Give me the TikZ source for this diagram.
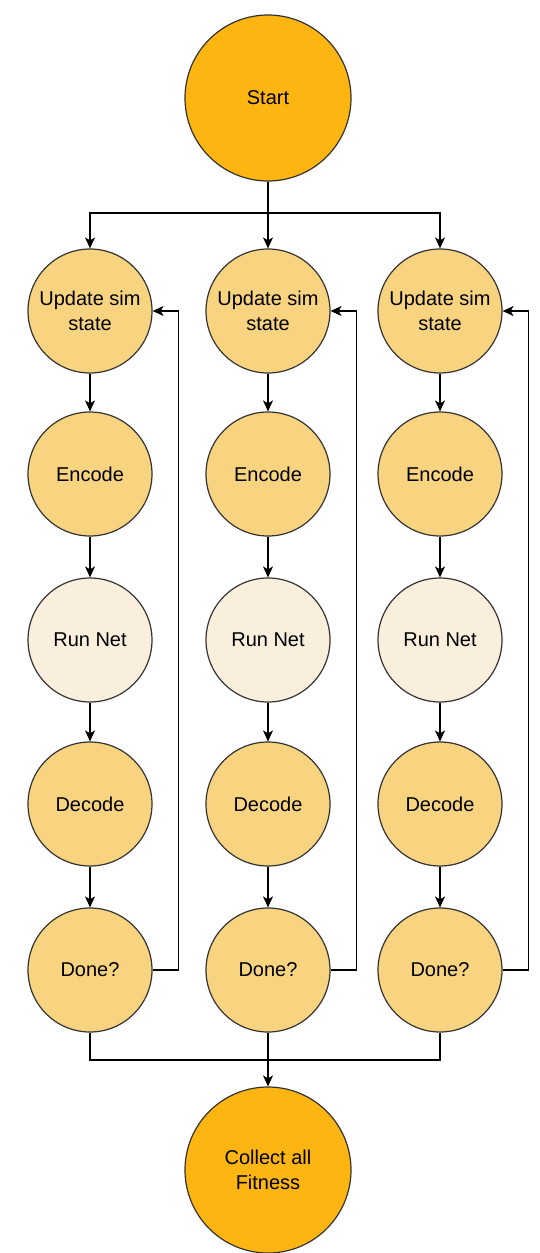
\documentclass[tikz,border=0pt]{standalone}
\usepackage{fontspec}
\setmainfont{Liberation Sans}
\usetikzlibrary{arrows.meta}
\definecolor{strong}{RGB}{253,181,18}
\definecolor{mid}{RGB}{248,211,128}
\definecolor{pale}{RGB}{250,239,220}
\definecolor{edge}{RGB}{51,51,51}
\tikzset{
  stage/.style={circle, draw=edge, line width=1.2pt, minimum size=124pt, inner sep=0pt,
    align=center, font=\fontsize{20}{25}\selectfont, fill=mid},
  netstage/.style={stage, fill=pale},
  endpoint/.style={stage, minimum size=166pt, fill=strong},
  link/.style={line width=1.2pt, draw=black},
  arr/.style={link, -{Stealth[length=11pt, width=10pt, inset=3pt]}}
}
\begin{document}
\begin{tikzpicture}[x=1pt, y=-1pt]
\useasboundingbox (0,0) rectangle (539,1253);
\node[endpoint] (start) at (268,98) {Start};
\node[endpoint] (collect) at (268,1170) {Collect all\\Fitness};
\foreach \c/\x in {1/90, 2/268, 3/440} {
  \node[stage] (u\c) at (\x,311) {Update sim\\state};
  \node[stage] (e\c) at (\x,474) {Encode};
  \node[netstage] (r\c) at (\x,640) {Run Net};
  \node[stage] (d\c) at (\x,804) {Decode};
  \node[stage] (q\c) at (\x,970) {Done?};
  \draw[arr] (u\c) -- (e\c);
  \draw[arr] (e\c) -- (r\c);
  \draw[arr] (r\c) -- (d\c);
  \draw[arr] (d\c) -- (q\c);
  \draw[arr] (q\c.east) -- ++(26,0) |- (u\c.east);
}
% fan-out from the start node
\coordinate (split) at (268,213);
\draw[link] (start.south) -- (split);
\draw[arr] (split) -| (u1.north);
\draw[arr] (split) -| (u3.north);
\draw[arr] (split) -- (u2.north);
% fan-in to the final node
\coordinate (join) at (268,1060);
\draw[link] (q1.south) |- (join);
\draw[link] (q3.south) |- (join);
\draw[arr] (q2.south) -- (collect.north);
\end{tikzpicture}
\end{document}
